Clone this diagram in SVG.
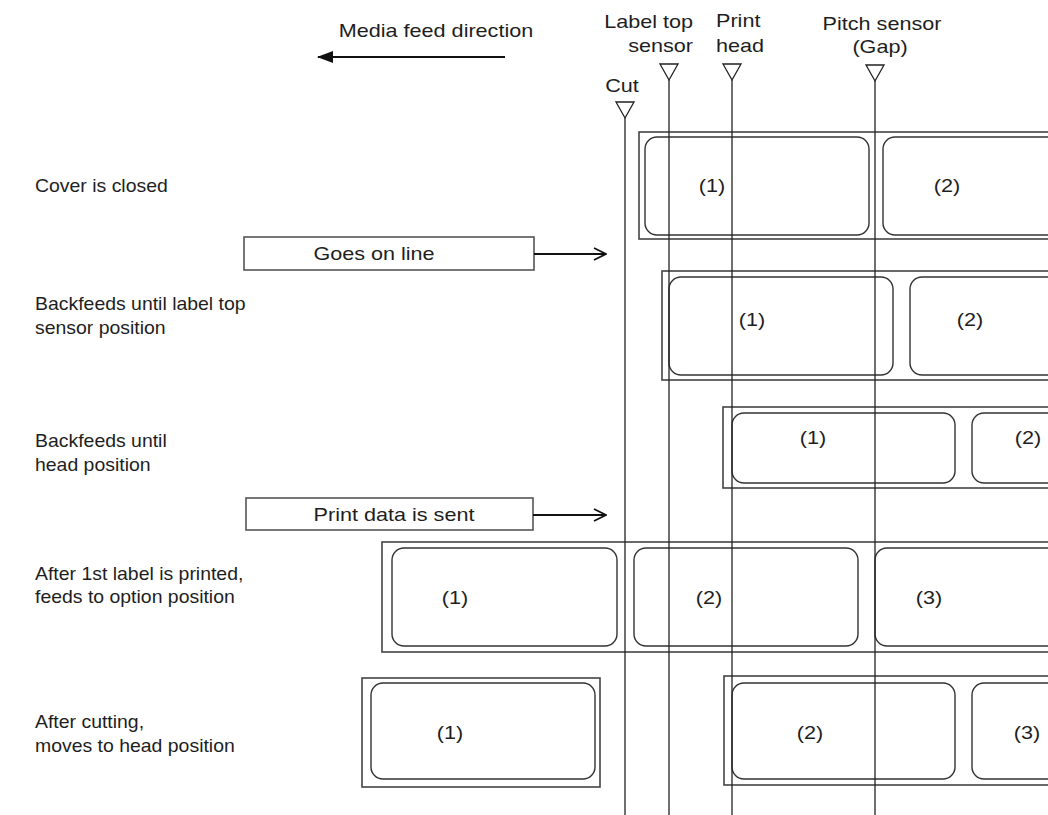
<svg xmlns="http://www.w3.org/2000/svg" width="1048" height="815" viewBox="0 0 1048 815">
<defs>
<style>
text{font-family:"Liberation Sans",Arial,sans-serif;font-size:18px;fill:#1e1e1e}
.m{text-anchor:middle}
.e{text-anchor:end}
.outer{fill:none;stroke:#444;stroke-width:1.6}
.label{fill:none;stroke:#333;stroke-width:1.4}
.sline{stroke:#222;stroke-width:1.3;fill:none}
.tri{fill:#fff;stroke:#222;stroke-width:1.3}
.conn{stroke:#111;stroke-width:1.8;fill:none}
.box{fill:#fff;stroke:#555;stroke-width:1.6}
</style>
<marker id="open" viewBox="0 0 14 14" refX="13" refY="7" markerWidth="14" markerHeight="14" markerUnits="userSpaceOnUse" orient="auto">
<path d="M1,1 L13,7 L1,13" fill="none" stroke="#111" stroke-width="1.8"/>
</marker>
<marker id="solid" viewBox="0 0 16 12" refX="15" refY="6" markerWidth="16" markerHeight="12" markerUnits="userSpaceOnUse" orient="auto">
<path d="M0,0 L16,6 L0,12 Z" fill="#111"/>
</marker>
</defs>
<rect width="1048" height="815" fill="#fff"/>

<g id="header">
<text class="m" transform="translate(436 37) scale(1.2 1)">Media feed direction</text>
</g>

<g id="row1">
<rect class="outer" x="639" y="132" width="430" height="107"/>
<rect class="label" x="645" y="137" width="224" height="98" rx="12"/>
<rect class="label" x="883" y="137" width="224" height="98" rx="12"/>
<text class="m" transform="translate(712 192) scale(1.2 1)">(1)</text>
<text class="m" transform="translate(947 192) scale(1.2 1)">(2)</text>
</g>
<g id="row2">
<rect class="outer" x="662" y="271" width="430" height="109"/>
<rect class="label" x="669" y="277" width="224" height="98" rx="12"/>
<rect class="label" x="910" y="277" width="224" height="98" rx="12"/>
<text class="m" transform="translate(752 326) scale(1.2 1)">(1)</text>
<text class="m" transform="translate(970 326) scale(1.2 1)">(2)</text>
</g>
<g id="row3">
<rect class="outer" x="723" y="407" width="430" height="81"/>
<rect class="label" x="732" y="413" width="223" height="70" rx="12"/>
<rect class="label" x="972" y="413" width="223" height="70" rx="12"/>
<text class="m" transform="translate(813 444) scale(1.2 1)">(1)</text>
<text class="m" transform="translate(1028 444) scale(1.2 1)">(2)</text>
</g>
<g id="row4">
<rect class="outer" x="382" y="542" width="700" height="110"/>
<rect class="label" x="392" y="548" width="225" height="98" rx="12"/>
<rect class="label" x="634" y="548" width="224" height="98" rx="12"/>
<rect class="label" x="875" y="548" width="224" height="98" rx="12"/>
<text class="m" transform="translate(455 604) scale(1.2 1)">(1)</text>
<text class="m" transform="translate(709 604) scale(1.2 1)">(2)</text>
<text class="m" transform="translate(929 604) scale(1.2 1)">(3)</text>
</g>
<g id="row5">
<rect class="outer" x="362" y="678" width="238" height="109"/>
<rect class="label" x="371" y="683" width="224" height="96" rx="12"/>
<text class="m" transform="translate(450 739) scale(1.2 1)">(1)</text>
<rect class="outer" x="724" y="676" width="400" height="109"/>
<rect class="label" x="732" y="683" width="223" height="96" rx="12"/>
<rect class="label" x="972" y="683" width="223" height="96" rx="12"/>
<text class="m" transform="translate(810 739) scale(1.2 1)">(2)</text>
<text class="m" transform="translate(1027 739) scale(1.2 1)">(3)</text>
</g>

<g id="sensors">
<polyline class="sline" points="625,118 625,815"/>
<polyline class="sline" points="669,80 669,815"/>
<polyline class="sline" points="732,80 732,815"/>
<polyline class="sline" points="875,81 875,815"/>
<polygon class="tri" points="616,102 634,102 625,118"/>
<polygon class="tri" points="660,64 678,64 669,80"/>
<polygon class="tri" points="723,64 741,64 732,80"/>
<polygon class="tri" points="866,65 884,65 875,81"/>
<text class="m" transform="translate(622 92) scale(1.2 1)">Cut</text>
<text class="e" transform="translate(693 28) scale(1.2 1)">Label top</text>
<text class="e" transform="translate(693 52) scale(1.2 1)">sensor</text>
<text transform="translate(716 27) scale(1.2 1)">Print</text>
<text transform="translate(716 52) scale(1.2 1)">head</text>
<text class="m" transform="translate(882 30) scale(1.2 1)">Pitch sensor</text>
<text class="m" transform="translate(880 53) scale(1.2 1)">(Gap)</text>
</g>

<g id="step-labels">
<text transform="translate(35 192) scale(1.08 1)">Cover is closed</text>
<text transform="translate(35 310) scale(1.08 1)">Backfeeds until label top</text>
<text transform="translate(35 334) scale(1.08 1)">sensor position</text>
<text transform="translate(35 447) scale(1.08 1)">Backfeeds until</text>
<text transform="translate(35 471) scale(1.08 1)">head position</text>
<text transform="translate(35 580) scale(1.08 1)">After 1st label is printed,</text>
<text transform="translate(35 603) scale(1.08 1)">feeds to option position</text>
<text transform="translate(35 728) scale(1.08 1)">After cutting,</text>
<text transform="translate(35 752) scale(1.08 1)">moves to head position</text>
</g>

<g id="event-goes-on-line">
<rect class="box" x="244" y="237" width="290" height="33"/>
<text class="m" transform="translate(374 260) scale(1.2 1)">Goes on line</text>
</g>
<g id="event-print-data">
<rect class="box" x="246" y="498" width="287" height="32"/>
<text class="m" transform="translate(394 521) scale(1.2 1)">Print data is sent</text>
</g>

<g id="connectors">
<line class="conn" x1="505" y1="57" x2="318" y2="57" marker-end="url(#solid)"/>
<line class="conn" x1="534" y1="254" x2="606" y2="254" marker-end="url(#open)"/>
<line class="conn" x1="533" y1="515" x2="606" y2="515" marker-end="url(#open)"/>
</g>
</svg>
